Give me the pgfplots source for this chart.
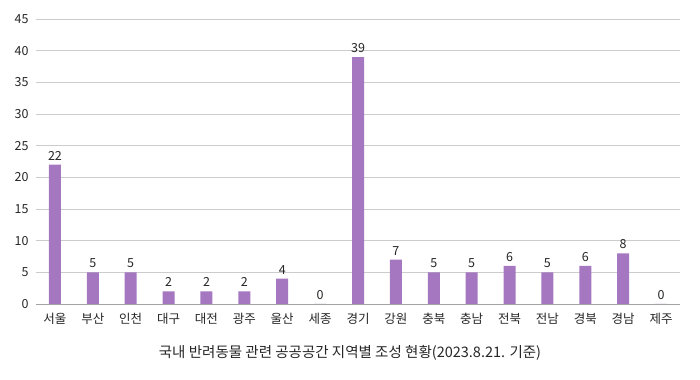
\documentclass[border=0pt]{standalone}
\usepackage{pgfplots}
\pgfplotsset{compat=1.18}
\usepackage{fontspec}
\setmainfont{Noto Sans CJK KR}
\definecolor{barc}{HTML}{A577C1}
\definecolor{gridc}{HTML}{CCCCCC}
\begin{document}
\begin{tikzpicture}
\path[use as bounding box] (0,0) rectangle (700bp,380bp);
\begin{axis}[
  at={(36bp,76bp)}, anchor=south west,
  width=644bp, height=285bp, scale only axis,
  xmin=-0.5, xmax=16.5, ymin=0, ymax=45,
  ytick={0,5,...,45},
  xtick={0,...,16},
  xticklabels={서울,부산,인천,대구,대전,광주,울산,세종,경기,강원,충북,충남,전북,전남,경북,경남,제주},
  ymajorgrids, grid style={gridc, line width=0.8pt},
  axis x line*=bottom, axis y line*=left,
  y axis line style={draw=none},
  x axis line style={gridc!80!black, line width=0.8pt},
  major tick length=0pt,
  tick label style={font=\fontsize{12.5bp}{14bp}\selectfont, text=black!85},
  /pgf/number format/assume math mode=true,
  yticklabel style={xshift=-4bp},
  xticklabel style={yshift=-6bp},
  ybar, bar width=12bp,
  nodes near coords,
  every node near coord/.append style={font=\fontsize{12.5bp}{14bp}\selectfont, text=black!85, yshift=1bp},
  clip=false,
]
\addplot[fill=barc, draw=none] coordinates {
(0,22) (1,5) (2,5) (3,2) (4,2) (5,2) (6,4) (7,0) (8,39) (9,7) (10,5) (11,5) (12,6) (13,5) (14,6) (15,8) (16,0)};
\end{axis}
\node[font=\fontsize{14.5bp}{16bp}\selectfont, text=black!85] at (350bp,27bp) {국내 반려동물 관련 공공공간 지역별 조성 현황(2023.8.21. 기준)};
\end{tikzpicture}
\end{document}
